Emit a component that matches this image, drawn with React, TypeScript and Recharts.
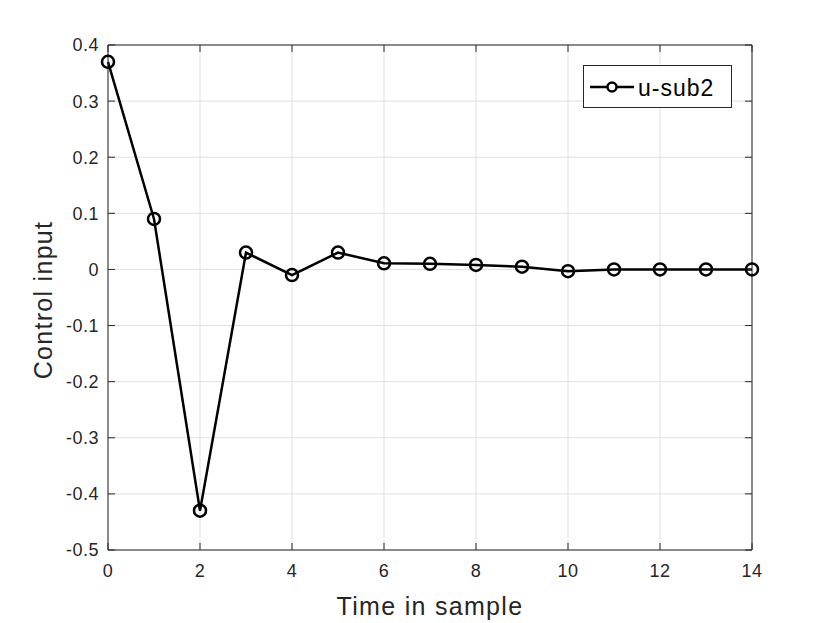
import React from "react";
import {
  LineChart,
  Line,
  XAxis,
  YAxis,
  CartesianGrid,
  Label,
} from "recharts";

const samples = [0, 1, 2, 3, 4, 5, 6, 7, 8, 9, 10, 11, 12, 13, 14];
const uSub2 = [0.37, 0.09, -0.43, 0.03, -0.01, 0.03, 0.011, 0.01, 0.008, 0.005, -0.003, 0, 0, 0, 0];
const xTicks = [0, 2, 4, 6, 8, 10, 12, 14];
const yTicks = [-0.5, -0.4, -0.3, -0.2, -0.1, 0, 0.1, 0.2, 0.3, 0.4];

const data = samples.map((t, i) => ({ t, u: uSub2[i] }));

const FONT = "'Liberation Sans', Arial, Helvetica, sans-serif";
const AXIS = "#262626";
const fmtY = (v: number) => String(Math.round(v * 10) / 10);

const LegendBox = () => (
  <svg width={149} height={43} style={{ display: "block" }}>
    <rect x={0.5} y={0.5} width={148} height={42} fill="#fff" stroke={AXIS} strokeWidth={1} />
    <line x1={7} y1={22} x2={51} y2={22} stroke="#000" strokeWidth={2.5} />
    <circle cx={29} cy={22} r={4.5} fill="#fff" stroke="#000" strokeWidth={2.5} />
    <text x={55} y={31} fontFamily={FONT} fontSize={23} fill="#000" letterSpacing={1}>
      u-sub2
    </text>
  </svg>
);

const App: React.FC = () => {
  return (
    <div style={{ position: "absolute", left: 0, top: 0, width: 830, height: 623, background: "#fff" }}>
      <LineChart
        width={830}
        height={623}
        data={data}
        margin={{ top: 44, right: 77, bottom: 43, left: 48 }}
      >
        <CartesianGrid
          xAxisId="bottom"
          yAxisId="left"
          stroke="#e0e0e0"
          strokeWidth={1}
          horizontalValues={yTicks}
          verticalValues={xTicks}
        />
        <XAxis
          xAxisId="bottom"
          dataKey="t"
          type="number"
          domain={[0, 14]}
          ticks={xTicks}
          height={30}
          stroke={AXIS}
          tickSize={-7}
          tickMargin={21}
          tick={{ fontSize: 18, fontFamily: FONT, fill: AXIS, letterSpacing: 0.5 }}
          interval={0}
        >
          <Label
            content={() => (
              <text
                x={430}
                y={615}
                textAnchor="middle"
                fontFamily={FONT}
                fontSize={25}
                fill={AXIS}
                letterSpacing={1.3}
              >
                Time in sample
              </text>
            )}
          />
        </XAxis>
        <XAxis
          xAxisId="top"
          dataKey="t"
          type="number"
          orientation="top"
          domain={[0, 14]}
          ticks={xTicks}
          height={1}
          stroke={AXIS}
          tickSize={-7}
          tickFormatter={() => ""}
          interval={0}
        />
        <YAxis
          yAxisId="left"
          type="number"
          domain={[-0.5, 0.4]}
          ticks={yTicks}
          width={60}
          stroke={AXIS}
          tickSize={-7}
          tickMargin={16}
          tickFormatter={fmtY}
          tick={{ fontSize: 18, fontFamily: FONT, fill: AXIS, letterSpacing: 0.5 }}
          interval={0}
        >
          <Label
            content={() => (
              <text
                x={43}
                y={300}
                transform="rotate(-90 43 300)"
                textAnchor="middle"
                dominantBaseline="central"
                fontFamily={FONT}
                fontSize={25}
                fill={AXIS}
                letterSpacing={1.3}
              >
                Control input
              </text>
            )}
          />
        </YAxis>
        <YAxis
          yAxisId="right"
          type="number"
          orientation="right"
          domain={[-0.5, 0.4]}
          ticks={yTicks}
          width={1}
          stroke={AXIS}
          tickSize={-7}
          tickFormatter={() => ""}
          interval={0}
        />
        {/* invisible twin so the top/right box axes are attached to data */}
        <Line
          xAxisId="top"
          yAxisId="right"
          type="linear"
          dataKey="u"
          stroke="none"
          dot={false}
          activeDot={false}
          legendType="none"
          isAnimationActive={false}
        />
        <Line
          xAxisId="bottom"
          yAxisId="left"
          type="linear"
          dataKey="u"
          name="u-sub2"
          stroke="#000"
          strokeWidth={2.5}
          dot={{ r: 6, stroke: "#000", strokeWidth: 2.5, fill: "none" }}
          isAnimationActive={false}
        />
      </LineChart>
      <div style={{ position: "absolute", left: 583, top: 65 }}>
        <LegendBox />
      </div>
    </div>
  );
};

export default App;
